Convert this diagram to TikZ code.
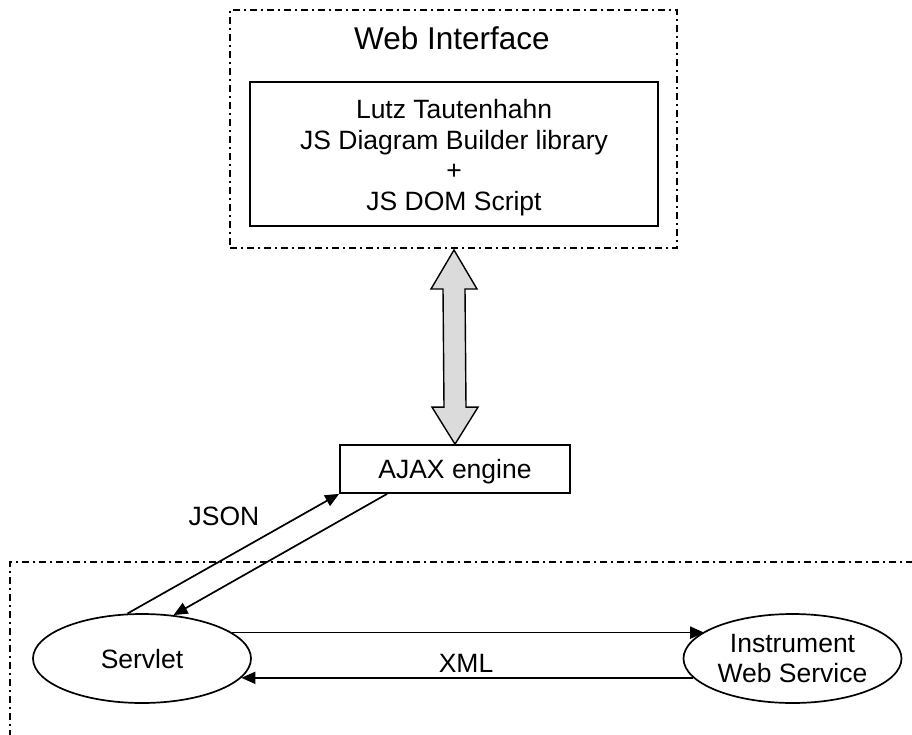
\documentclass[tikz,border=0pt]{standalone}
\usepackage{fontspec}
\setmainfont{Liberation Sans}
\usetikzlibrary{arrows.meta,shapes.geometric,calc}
\begin{document}
\begin{tikzpicture}[x=1pt,y=-1pt,
  dashdotframe/.style={line width=1.4pt,dash pattern=on 7pt off 4pt on 2pt off 4pt},
  solidbox/.style={draw,line width=1.7pt,inner sep=0pt},
  oval/.style={draw,ellipse,line width=1.7pt,inner sep=0pt,minimum width=218pt,minimum height=89pt,text depth=0pt},
  txt/.style={font=\fontsize{26.5}{30.5}\selectfont},
  conn/.style={line width=1.7pt,-{Triangle[length=14pt,width=12pt]}},
  bigarrow/.style={draw,line width=1.4pt,fill=black!14,line join=miter}
]
\useasboundingbox (0,0) rectangle (912,734);
% top frame
\node[draw,dashdotframe,minimum width=447pt,minimum height=238pt,inner sep=0pt] (web) at (453.5,129) {};
\node[anchor=base,font=\fontsize{31.5}{36}\selectfont] (webtitle) at (452,49) {Web Interface};
\node[solidbox,minimum width=408pt,minimum height=144pt] (lib) at (454,154) {};
\node[txt,align=center] (libtext) at ($(lib.center)+(0,3.5)$) {Lutz Tautenhahn\\JS Diagram Builder library\\+\\JS DOM Script};
% AJAX
\node[solidbox,txt,minimum width=230pt,minimum height=48pt,text depth=0pt] (ajax) at (455,469) {AJAX engine};
% double arrow
\coordinate (t) at (454,250);
\coordinate (b) at (ajax.north);
\draw[bigarrow] (t) -- ++(23,39) -- ++(-12,0) -- ($(b)+(11,-37)$) -- ++(12,0) -- (b)
  -- ++(-23,-37) -- ++(12,0) -- ($(t)+(-11,39)$) -- ++(-12,0) -- cycle;
% bottom frame
\coordinate (fr1) at (930,562);
\coordinate (fr2) at (10,562);
\coordinate (fr3) at (10,750);
\draw[dashdotframe] (fr1) -- (fr2) -- (fr3);
% ellipses
\node[oval,txt] (servlet) at (142,658.5) {Servlet};
\node[oval,txt,align=center,font=\fontsize{26.5}{29.5}\selectfont] (inst) at (792.5,658.5) {Instrument\\Web Service};
% JSON connectors
\draw[conn] (servlet.108.8) -- (ajax.south west);
\draw[conn] ($(ajax.south west)+(48,0)$) -- (servlet.54);
\node[txt] (json) at (224,516) {JSON};
% XML connectors
\draw[conn] (servlet.16.84) -- (inst.163.16 |- servlet.16.84);
\draw[conn] (inst.191.96) -- (servlet.-11.96 |- inst.191.96);
\node[txt] (xml) at (466,663) {XML};
\end{tikzpicture}
\end{document}
